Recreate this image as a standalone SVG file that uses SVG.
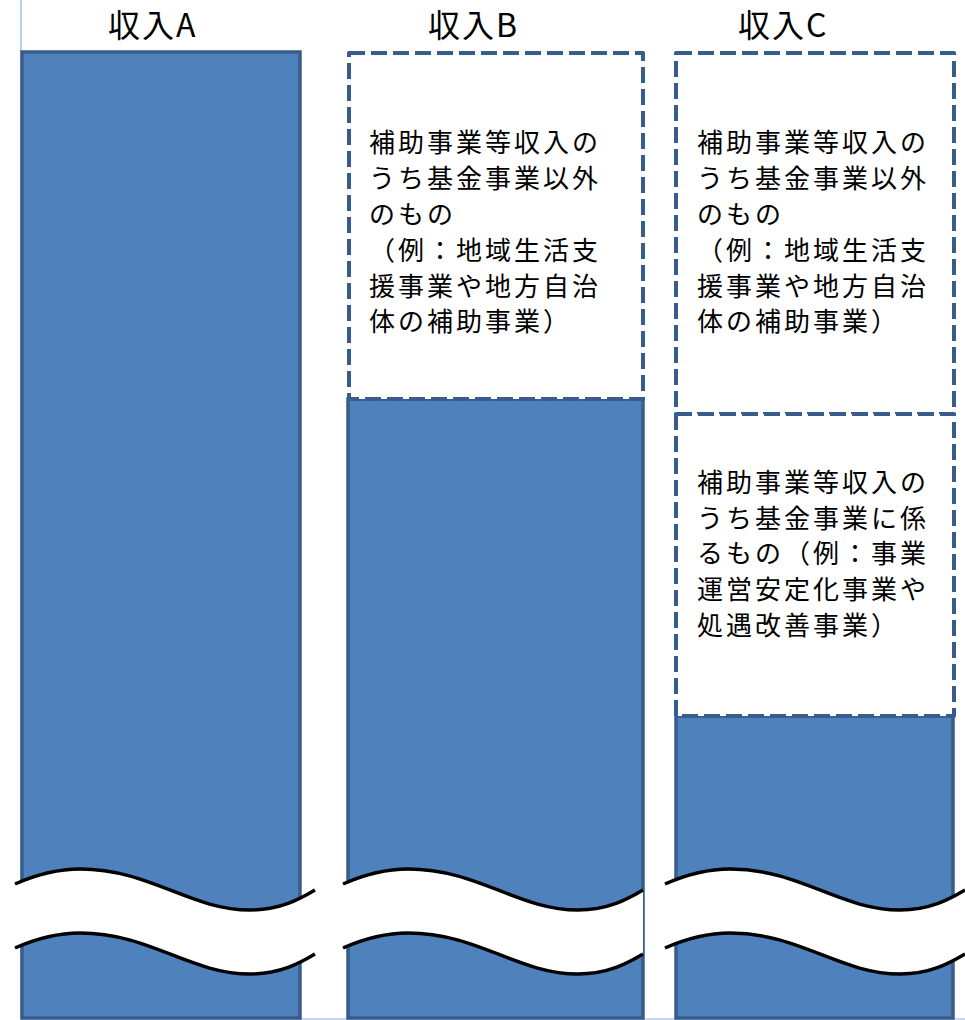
<svg xmlns="http://www.w3.org/2000/svg" width="965" height="1020" viewBox="0 0 965 1020">
<style>
.bar{fill:#4F81BD;stroke:#385D8A;stroke-width:3.5}
.dash{fill:#FFFFFF;stroke:#385D8A;stroke-width:4;stroke-dasharray:16 6;stroke-linejoin:round}
.title{font-family:"Noto Sans CJK JP","Liberation Sans",sans-serif;font-size:32px;font-weight:400;letter-spacing:2px;fill:#000}
.body{font-family:"Noto Sans CJK JP","Liberation Sans",sans-serif;font-size:26px;font-weight:400;letter-spacing:3px;fill:#000}
.band{fill:#FFFFFF;stroke:none}
.wave{fill:none;stroke:#000;stroke-width:3.4}
.axis{stroke:#8DB3E2;stroke-width:1.2;fill:none}
</style>
<defs>
<path id="bandShape" d="M15,884 C40,873 60,869 80,869 C150,869 190,910 250,910 C280,910 300,899 315,890 L315,954 C300,963 280,974 250,974 C190,974 150,933 80,933 C60,933 40,937 15,948 Z"/>
<path id="waveTop" d="M15,884 C40,873 60,869 80,869 C150,869 190,910 250,910 C280,910 300,899 315,890"/>
<path id="waveBot" d="M15,948 C40,937 60,933 80,933 C150,933 190,974 250,974 C280,974 300,963 315,954"/>
</defs>
<g id="axis">
<line class="axis" x1="21" y1="0" x2="21" y2="1019"/>
<line class="axis" x1="21" y1="1019" x2="965" y2="1019"/>
</g>
<g id="colA">
<text class="title" x="108" y="37">収入A</text>
<rect class="bar" x="22" y="52" width="278" height="966"/>
</g>
<g id="colB">
<text class="title" x="428" y="37">収入B</text>
<rect class="bar" x="348" y="399" width="295" height="619"/>
<rect class="dash" x="349" y="53" width="294" height="346"/>
<text class="body" x="369" y="152">補助事業等収入の</text>
<text class="body" x="369" y="188">うち基金事業以外</text>
<text class="body" x="369" y="224">のもの</text>
<text class="body" x="369" y="260">（例：地域生活支</text>
<text class="body" x="369" y="296">援事業や地方自治</text>
<text class="body" x="369" y="331">体の補助事業）</text>
</g>
<g id="colC">
<text class="title" x="738" y="37">収入C</text>
<rect class="bar" x="676" y="716" width="277" height="302"/>
<rect class="dash" x="676" y="53" width="278" height="361"/>
<rect class="dash" x="676" y="414" width="278" height="302"/>
<text class="body" x="697" y="152">補助事業等収入の</text>
<text class="body" x="697" y="188">うち基金事業以外</text>
<text class="body" x="697" y="224">のもの</text>
<text class="body" x="697" y="260">（例：地域生活支</text>
<text class="body" x="697" y="296">援事業や地方自治</text>
<text class="body" x="697" y="331">体の補助事業）</text>
<text class="body" x="697" y="492">補助事業等収入の</text>
<text class="body" x="697" y="528">うち基金事業に係</text>
<text class="body" x="697" y="563">るもの（例：事業</text>
<text class="body" x="697" y="599">運営安定化事業や</text>
<text class="body" x="697" y="635">処遇改善事業）</text>
</g>
<g id="breaks">
<g id="breakA">
<use href="#bandShape" class="band"/>
<use href="#waveTop" class="wave"/>
<use href="#waveBot" class="wave"/>
</g>
<g id="breakB" transform="translate(328,0)">
<use href="#bandShape" class="band"/>
<use href="#waveTop" class="wave"/>
<use href="#waveBot" class="wave"/>
</g>
<g id="breakC" transform="translate(650,0)">
<use href="#bandShape" class="band"/>
<use href="#waveTop" class="wave"/>
<use href="#waveBot" class="wave"/>
</g>
</g>
</svg>
